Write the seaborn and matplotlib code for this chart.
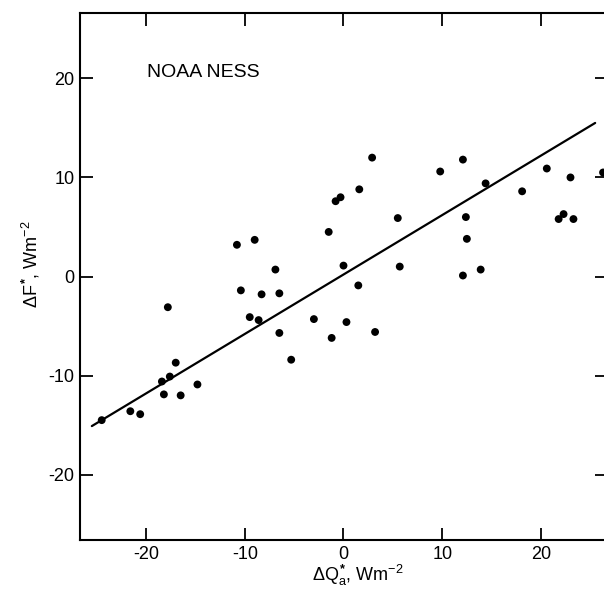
import numpy as np
import pandas as pd
import seaborn as sns
import matplotlib.pyplot as plt

# values (dQ*_a vs dF*, W m^-2)
dq = [-24.5, -21.6, -20.6, -18.4, -17.6, -18.2, -16.5, -17.0, -14.8, -17.8,
      -10.8, -9.0, -6.9, -10.4, -8.3, -6.5, -9.5, -8.6, -6.5, -5.3,
      -3.0, -1.2, 0.3, -1.5, 0.0, -0.8, -0.3, 1.6, 2.9, 5.5,
      5.7, 1.5, 3.2, 9.8, 12.1, 14.4, 18.1, 20.6, 23.0, 26.3,
      12.4, 12.5, 12.1, 13.9, 21.8, 22.3, 23.3]
df_star = [-14.5, -13.6, -13.9, -10.6, -10.1, -11.9, -12.0, -8.7, -10.9, -3.1,
           3.2, 3.7, 0.7, -1.4, -1.8, -1.7, -4.1, -4.4, -5.7, -8.4,
           -4.3, -6.2, -4.6, 4.5, 1.1, 7.6, 8.0, 8.8, 12.0, 5.9,
           1.0, -0.9, -5.6, 10.6, 11.8, 9.4, 8.6, 10.9, 10.0, 10.5,
           6.0, 3.8, 0.1, 0.7, 5.8, 6.3, 5.8]

# regression line
fit_slope = 0.6
fit_intercept = 0.2
fit_x = [-25.5, 25.5]

ticks = [-20, -10, 0, 10, 20]

sns.set_style("ticks")
plt.rcParams['font.family'] = ['Liberation Sans', 'DejaVu Sans']
plt.rcParams['axes.unicode_minus'] = False
plt.rcParams['mathtext.fontset'] = 'custom'
plt.rcParams['mathtext.rm'] = 'Liberation Sans'
plt.rcParams['mathtext.it'] = 'Liberation Sans'
plt.rcParams['mathtext.bf'] = 'Liberation Sans:bold'
plt.rcParams['text.color'] = 'black'
plt.rcParams['axes.labelcolor'] = 'black'

fig = plt.figure(figsize=(6.04, 5.9), dpi=100)
# right spine sits just past the image edge, as in the scan
ax = fig.add_axes([80 / 604, 50 / 590, 527 / 604, 527 / 590])

pts = pd.DataFrame({'dq': dq, 'df': df_star})
sns.scatterplot(data=pts, x='dq', y='df', ax=ax, color='black', s=32,
                edgecolor='none', clip_on=False)

line = pd.DataFrame({'x': fit_x})
line['y'] = fit_slope * line['x'] + fit_intercept
sns.lineplot(data=line, x='x', y='y', ax=ax, color='black', linewidth=1.6)

ax.set_xlim(-26.7, 26.7)
ax.set_ylim(-26.6, 26.6)
ax.set_xticks(ticks)
ax.set_yticks(ticks)
ax.tick_params(direction='in', length=9, width=1.3, top=True, right=True,
               labelsize=13, pad=4, colors='black')
for sp in ax.spines.values():
    sp.set_linewidth(1.5)
    sp.set_visible(True)
    sp.set_color('black')

ax.text(-19.9, 20.6, 'NOAA NESS', fontsize=14, va='center', ha='left')

ax.set_xlabel(r'$\Delta Q_a^{\mathbf{*}}$, Wm$^{-2}$', fontsize=13)
ax.set_ylabel(r'$\Delta F^{\mathbf{*}}$, Wm$^{-2}$', fontsize=13)
ax.xaxis.set_label_coords(0.527, -0.043)
ax.yaxis.set_label_coords(-0.072, 0.524)

fig.savefig('out.png', dpi=100)
